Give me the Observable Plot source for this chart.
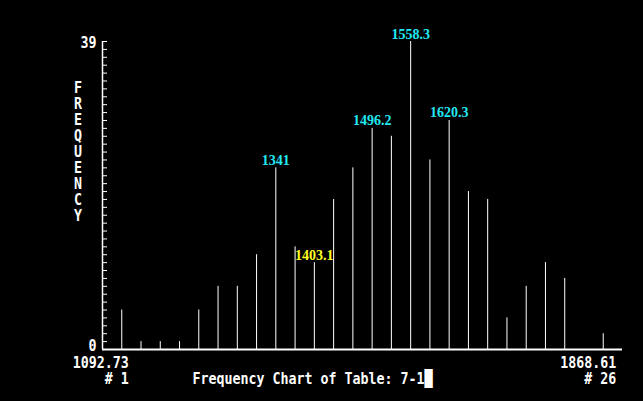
<!DOCTYPE html>
<html>
<head>
<meta charset="utf-8">
<script src="https://cdn.jsdelivr.net/npm/d3@7"></script>
<script src="https://cdn.jsdelivr.net/npm/@observablehq/plot@0.6"></script>
<style>
  html, body { margin: 0; padding: 0; background: #000; }
  #chart { width: 643px; height: 401px; overflow: hidden; }
</style>
</head>
<body>
<div id="chart"></div>
<script>
// Bin numbers (1..26) and frequencies
const bins = [1,2,3,4,5,6,7,8,9,10,11,12,13,14,15,16,17,18,19,20,21,22,23,24,25,26];
const freqs = [5,1,1,1,5,8,8,12,23,13,11,19,23,28,27,39,24,29,20,19,4,8,11,9,0,2];

// Value labels shown above some bars
const labelBins = [9, 11, 14, 16, 18];
const labelTexts = ["1341", "1403.1", "1496.2", "1558.3", "1620.3"];
const labelColors = ["#22e8f2", "#ffff22", "#22e8f2", "#22e8f2", "#22e8f2"];

// Axis ticks and texts
const yTicks = [0,1,2,3,4,5,6,7,8,9,10,11,12,13,14,15,16,17,18,19,20,21,22,23,24,25,26,27,28,29,30,31,32,33,34,35,36,37,38,39];
const yMin = 0, yMax = 39;
const firstLabel = ["1092.73", "# 1"];
const lastLabel = ["1868.61", "# 26"];
const yTitle = "FREQUENCY";
const chartTitle = "Frequency Chart of Table: 7-1";

const table = bins.map((b, i) => ({bin: b, freq: freqs[i]}));
const labels = labelBins.map((b, i) => ({bin: b, freq: freqs[bins.indexOf(b)], text: labelTexts[i], color: labelColors[i]}));

const mono = "DejaVu Sans Mono";
const monoSize = 16;
const rowSize = 15;
const rowPitch = 16;

const plot = Plot.plot({
  width: 643,
  height: 401,
  marginLeft: 102,
  marginRight: 21,
  marginTop: 41,
  marginBottom: 52,
  style: {background: "#000", color: "#fff", overflow: "visible"},
  x: {domain: [0, 27], axis: null},
  y: {domain: [yMin, yMax], axis: null},
  marks: [
    Plot.axisY({ticks: yTicks, tickSize: -5, tickFormat: () => "", stroke: "#fff", label: null}),
    Plot.ruleX([0], {y1: yMin, y2: yMax, stroke: "#fff", strokeWidth: 1.5}),
    Plot.ruleY([0], {stroke: "#fff", strokeWidth: 2}),
    Plot.ruleX(table.filter(d => d.freq > 0), {x: "bin", y1: 0, y2: "freq", stroke: "#fff", strokeWidth: 1}),
    Plot.text(labels, {x: "bin", y: "freq", text: "text", fill: "color", lineAnchor: "bottom", dy: -3,
      fontFamily: "Liberation Serif", fontWeight: "bold", fontSize: 14}),
    // y tick labels
    Plot.text([yMax], {y: d => d, text: d => String(d), frameAnchor: "left", textAnchor: "end", lineAnchor: "bottom",
      dx: -6, dy: 6, fill: "#fff", fontFamily: mono, fontWeight: "bold", fontSize: monoSize}),
    Plot.text([yMin], {y: d => d, text: d => String(d), frameAnchor: "left", textAnchor: "end", lineAnchor: "bottom",
      dx: -6, dy: 1, fill: "#fff", fontFamily: mono, fontWeight: "bold", fontSize: monoSize}),
    // vertical y title (stacked letters)
    Plot.text([yTitle.split("").join("\n")], {text: d => d, frameAnchor: "top-left", textAnchor: "middle", lineAnchor: "top",
      dx: -24.5, dy: 40, lineHeight: rowPitch / rowSize, fill: "#fff", fontFamily: mono, fontWeight: "bold", fontSize: rowSize}),
    // first / last bin labels
    Plot.text([firstLabel.join("\n")], {x: () => bins[0], text: d => d, frameAnchor: "bottom", textAnchor: "end", lineAnchor: "bottom",
      dx: 7, dy: 34, lineHeight: rowPitch / rowSize, fill: "#fff", fontFamily: mono, fontWeight: "bold", fontSize: rowSize}),
    Plot.text([lastLabel.join("\n")], {x: () => bins[bins.length - 1], text: d => d, frameAnchor: "bottom", textAnchor: "end", lineAnchor: "bottom",
      dx: 13, dy: 34, lineHeight: rowPitch / rowSize, fill: "#fff", fontFamily: mono, fontWeight: "bold", fontSize: rowSize}),
    // chart title with cursor
    Plot.text([chartTitle + "\u2588"], {text: d => d, frameAnchor: "bottom-left", textAnchor: "start", lineAnchor: "bottom",
      dx: 90, dy: 34, fill: "#fff", fontFamily: mono, fontWeight: "bold", fontSize: monoSize})
  ]
});

// Condense the monospace text horizontally to mimic the narrow screen font
d3.select(plot).selectAll("g[font-family='" + mono + "'] text").each(function() {
  const size = +this.parentNode.getAttribute("font-size") || monoSize;
  const sx = 8 / (0.602 * size);
  const t = this.getAttribute("transform") || "";
  this.setAttribute("transform", t + " scale(" + sx.toFixed(3) + ",1)");
});

document.getElementById("chart").appendChild(plot);
</script>
</body>
</html>
